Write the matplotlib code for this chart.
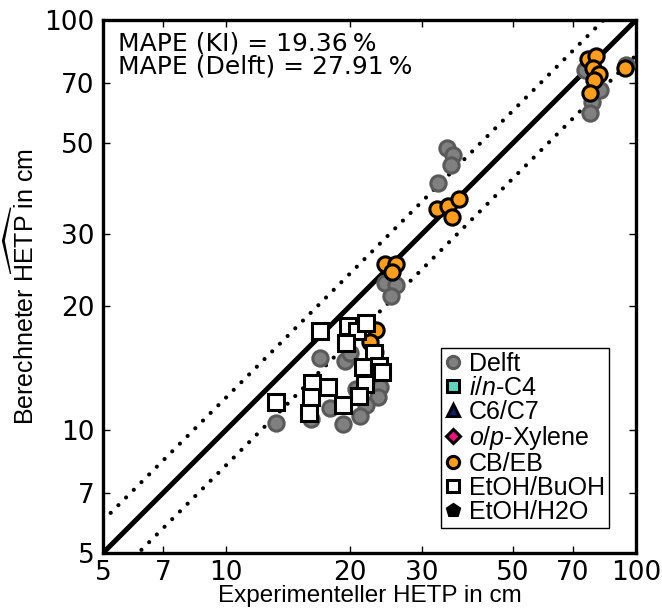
import numpy as np
import matplotlib
matplotlib.use("Agg")
import matplotlib.pyplot as plt

plt.rcParams['font.family'] = ['Liberation Sans', 'DejaVu Sans']
plt.rcParams['mathtext.fontset'] = 'custom'
plt.rcParams['mathtext.rm'] = 'Liberation Sans'
plt.rcParams['mathtext.it'] = 'Liberation Sans:italic'

# Delft model (grey circles): experimental vs. calculated HETP in cm
delft_exp = [75.0, 81.7, 78.1, 77.2, 94.8,
             34.6, 35.7, 35.3, 32.8, 24.4, 26.0, 25.2,
             16.9, 19.5, 20.0, 23.1, 23.7, 23.4, 21.9, 21.2, 17.9, 19.3, 16.1, 13.2, 20.7]
delft_calc = [75.3, 67.3, 63.1, 59.3, 77.5,
              48.6, 46.7, 44.2, 40.0, 22.8, 22.6, 21.2,
              15.0, 14.7, 15.4, 15.5, 12.7, 12.0, 11.5, 10.8, 11.3, 10.3, 10.6, 10.4, 12.6]

# CB/EB (orange circles)
cbeb_exp = [76.3, 79.9, 78.5, 81.2, 79.0, 77.2, 93.8,
            32.7, 34.8, 35.6, 37.0, 24.4, 26.0, 25.4, 23.2, 22.4]
cbeb_calc = [80.4, 81.8, 76.2, 74.0, 71.2, 66.2, 76.5,
             34.5, 35.1, 33.0, 36.6, 25.4, 25.4, 24.2, 17.5, 16.4]

# EtOH/BuOH (white squares)
etbu_exp = [16.9, 19.8, 20.8, 21.9, 19.6, 22.9, 21.6, 23.6, 24.0,
            21.8, 21.1, 19.3, 17.7, 16.2, 16.1, 15.9, 13.2]
etbu_calc = [17.4, 17.9, 17.4, 18.2, 16.3, 15.4, 14.2, 14.3, 13.8,
             12.9, 12.1, 11.5, 12.7, 13.0, 12.0, 11.0, 11.7]

# systems without points in this chart (legend only)
empty = []

mape_ki = 19.36
mape_delft = 27.91
ticks = [5, 7, 10, 20, 30, 50, 70, 100]

fig = plt.figure(figsize=(6.62, 6.12), dpi=100)
ax = fig.add_axes([103/662, 59/612, 533/662, 533/612])
ax.set_xscale('log')
ax.set_yscale('log')

lims = np.array([5, 100])
ax.plot(lims, lims, color='black', lw=3.6, zorder=2)
ax.plot(lims, lims*1.2, color='black', lw=3, linestyle=(0, (0.01, 2.6)),
        dash_capstyle='round', zorder=2)
ax.plot(lims, lims*0.82, color='black', lw=3, linestyle=(0, (0.01, 2.6)),
        dash_capstyle='round', zorder=2)

ms = 11
ax.plot(delft_exp, delft_calc, 'o', ms=ms, mfc='#808080', mec='#5a5a5a', mew=2.2,
        label='Delft', zorder=3)
ax.plot(empty, empty, 's', ms=ms, mfc='#5fd3c0', mec='black', mew=2.2,
        label='$i$/$n$-C4', zorder=4)
ax.plot(empty, empty, '^', ms=ms, mfc='#0a1f6e', mec='black', mew=2.2,
        label='C6/C7', zorder=4)
ax.plot(empty, empty, 'D', ms=ms*0.8, mfc='#e8147a', mec='black', mew=2.2,
        label='$o$/$p$-Xylene', zorder=4)
ax.plot(cbeb_exp, cbeb_calc, 'o', ms=ms, mfc='#ff9d1e', mec='black', mew=2.2,
        label='CB/EB', zorder=4)
ax.plot(etbu_exp, etbu_calc, 's', ms=ms, mfc='white', mec='black', mew=2.2,
        label='EtOH/BuOH', zorder=5)
ax.plot(empty, empty, 'p', ms=ms, mfc='black', mec='black', mew=2.2,
        label='EtOH/H2O', zorder=4)

ax.set_xlim(5, 100)
ax.set_ylim(5, 100)
ax.set_xticks(ticks)
ax.set_xticklabels([str(t) for t in ticks], family='DejaVu Sans')
ax.set_yticks(ticks)
ax.set_yticklabels([str(t) for t in ticks], family='DejaVu Sans')
ax.minorticks_off()
ax.tick_params(direction='in', length=5, width=1, labelsize=19, pad=6,
               top=True, right=True)
ax.tick_params(axis='x', pad=5)
for s in ax.spines.values():
    s.set_linewidth(2.4)

ax.set_xlabel('Experimenteller HETP in cm', fontsize=17.5, labelpad=-1)
ax.set_ylabel(r'Berechneter $\widehat{\mathrm{HETP}}$ in cm', fontsize=18, labelpad=4)

ax.text(0.028, 0.978,
        'MAPE (KI) = %.2f\u2009%%\nMAPE (Delft) = %.2f\u2009%%' % (mape_ki, mape_delft),
        transform=ax.transAxes, ha='left', va='top', fontsize=18,
        family='DejaVu Sans', linespacing=0.95)

leg = ax.legend(loc='lower right', bbox_to_anchor=(0.949, 0.047), fontsize=18,
                numpoints=1, markerscale=0.8, handlelength=0.65, handletextpad=0.3,
                labelspacing=0.0, borderpad=0.15, borderaxespad=0, fancybox=False,
                framealpha=1, edgecolor='black')
leg.get_frame().set_linewidth(1)

fig.savefig('out.png', dpi=100)
